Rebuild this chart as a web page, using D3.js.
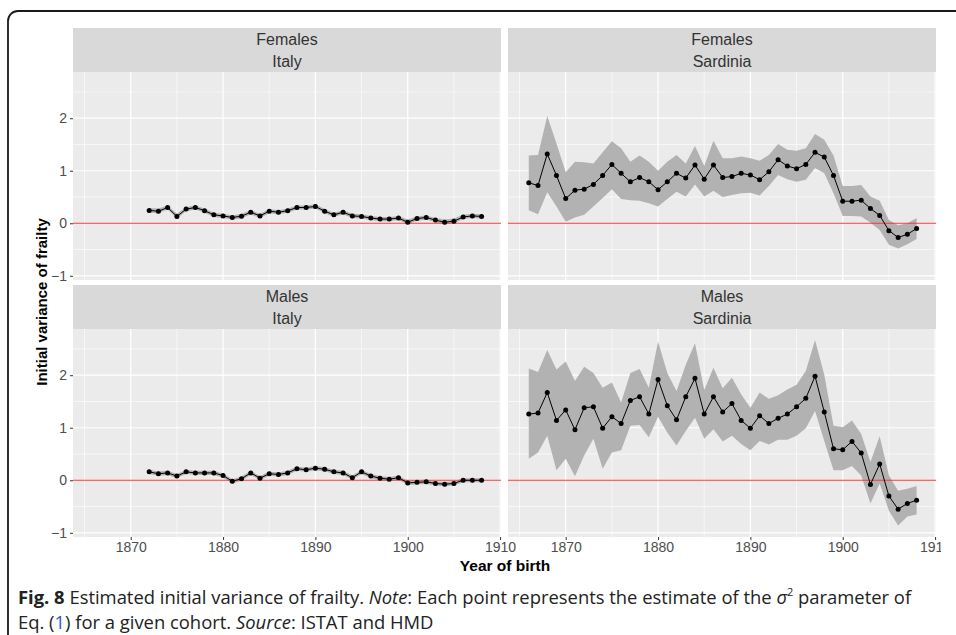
<!DOCTYPE html>
<html><head><meta charset="utf-8">
<script src="https://cdn.jsdelivr.net/npm/d3@7"></script>
<style>body{margin:0;background:#fff}svg{display:block}</style>
</head><body>
<script>
// ---- data ----
const italyStart = 1872, sardStart = 1866;
const itFemEst = [0.245,0.23,0.30,0.13,0.27,0.30,0.24,0.16,0.14,0.11,0.135,0.21,0.14,0.23,0.21,0.24,0.30,0.30,0.32,0.23,0.16,0.21,0.14,0.13,0.10,0.08,0.08,0.10,0.02,0.09,0.11,0.06,0.02,0.04,0.12,0.14,0.13];
const itFemUp  = [0.29,0.28,0.34,0.18,0.31,0.34,0.28,0.20,0.18,0.15,0.18,0.25,0.18,0.27,0.25,0.28,0.34,0.34,0.36,0.27,0.20,0.25,0.18,0.17,0.14,0.12,0.12,0.14,0.07,0.13,0.15,0.10,0.07,0.09,0.16,0.18,0.17];
const itFemLo  = [0.20,0.19,0.26,0.09,0.23,0.26,0.20,0.12,0.10,0.07,0.09,0.17,0.10,0.19,0.17,0.20,0.26,0.26,0.28,0.19,0.12,0.17,0.10,0.09,0.06,0.04,0.04,0.06,-0.02,0.05,0.07,0.02,-0.02,0.00,0.08,0.10,0.09];
const itMalEst = [0.16,0.125,0.14,0.08,0.16,0.14,0.14,0.14,0.09,-0.02,0.03,0.14,0.04,0.125,0.11,0.14,0.22,0.20,0.23,0.21,0.16,0.14,0.05,0.16,0.08,0.04,0.02,0.05,-0.05,-0.04,-0.03,-0.06,-0.075,-0.06,0.0,0.0,0.0];
const itMalUp  = [0.20,0.165,0.18,0.12,0.20,0.18,0.18,0.18,0.13,0.02,0.07,0.18,0.08,0.165,0.15,0.18,0.26,0.24,0.27,0.25,0.20,0.18,0.09,0.20,0.12,0.08,0.06,0.09,-0.01,0.0,0.01,-0.02,-0.035,-0.02,0.04,0.04,0.04];
const itMalLo  = [0.12,0.085,0.10,0.04,0.12,0.10,0.10,0.10,0.05,-0.06,-0.01,0.10,0.0,0.085,0.07,0.10,0.18,0.16,0.19,0.17,0.12,0.10,0.01,0.12,0.04,0.0,-0.02,0.01,-0.09,-0.08,-0.07,-0.10,-0.115,-0.10,-0.04,-0.04,-0.04];
const saFemEst = [0.77,0.72,1.32,0.91,0.47,0.63,0.65,0.74,0.91,1.12,0.95,0.79,0.87,0.79,0.64,0.79,0.95,0.86,1.11,0.84,1.11,0.87,0.89,0.95,0.92,0.83,0.98,1.21,1.09,1.04,1.12,1.35,1.26,0.91,0.42,0.42,0.44,0.28,0.15,-0.14,-0.27,-0.21,-0.10];
const saFemUp  = [1.29,1.30,2.04,1.52,0.97,1.17,1.16,1.14,1.35,1.56,1.43,1.17,1.29,1.17,1.00,1.17,1.30,1.14,1.47,1.09,1.57,1.24,1.24,1.27,1.24,1.19,1.30,1.51,1.40,1.38,1.43,1.70,1.59,1.29,0.71,0.71,0.73,0.51,0.43,0.06,-0.04,0.0,0.10];
const saFemLo  = [0.25,0.17,0.59,0.32,0.03,0.11,0.16,0.32,0.48,0.65,0.46,0.44,0.43,0.38,0.32,0.46,0.60,0.51,0.74,0.51,0.62,0.50,0.54,0.57,0.58,0.53,0.71,0.92,0.84,0.79,0.83,1.05,0.95,0.57,0.14,0.14,0.13,0.01,-0.13,-0.41,-0.48,-0.40,-0.30];
const saMalEst = [1.26,1.28,1.67,1.14,1.34,0.96,1.38,1.40,0.99,1.21,1.08,1.52,1.59,1.26,1.92,1.42,1.15,1.59,1.94,1.26,1.59,1.30,1.46,1.14,0.99,1.23,1.08,1.18,1.26,1.40,1.56,1.98,1.30,0.60,0.58,0.74,0.52,-0.08,0.31,-0.30,-0.55,-0.44,-0.38];
const saMalUp  = [2.13,2.06,2.48,2.11,2.26,1.89,2.16,2.04,1.76,1.86,1.48,2.04,2.12,1.76,2.64,2.04,1.70,2.20,2.61,1.72,2.14,1.75,1.95,1.64,1.38,1.67,1.55,1.62,1.73,1.82,2.08,2.67,2.01,1.04,1.01,1.14,0.88,0.35,0.84,0.09,-0.20,-0.16,-0.11];
const saMalLo  = [0.41,0.53,0.85,0.19,0.41,0.075,0.47,0.79,0.22,0.53,0.57,1.04,1.05,0.82,1.21,0.91,0.66,0.94,1.19,0.79,0.97,0.74,0.85,0.69,0.57,0.75,0.68,0.77,0.77,0.85,0.99,1.32,0.75,0.19,0.19,0.27,0.09,-0.44,-0.06,-0.58,-0.86,-0.69,-0.65];
const xTicks = [1870,1880,1890,1900,1910];
const xMinor = [1865,1875,1885,1895,1905];
const yTicks = [-1,0,1,2];
const yMinor = [-0.5,0.5,1.5,2.5];
const panels = [
  {sex:"Females", region:"Italy",    start:italyStart, est:itFemEst, lo:itFemLo, up:itFemUp, col:0, row:0},
  {sex:"Females", region:"Sardinia", start:sardStart,  est:saFemEst, lo:saFemLo, up:saFemUp, col:1, row:0},
  {sex:"Males",   region:"Italy",    start:italyStart, est:itMalEst, lo:itMalLo, up:itMalUp, col:0, row:1},
  {sex:"Males",   region:"Sardinia", start:sardStart,  est:saMalEst, lo:saMalLo, up:saMalUp, col:1, row:1}
];

// ---- layout ----
const W = 956, H = 635;
const colX = [73, 508], panelW = 428;
const stripTop = [28, 285], stripH = 44, plotH = 208;

const svg = d3.select("body").append("svg").attr("width", W).attr("height", H);
svg.append("defs").append("clipPath").attr("id","clipAll")
  .append("rect").attr("x",0).attr("y",0).attr("width",941).attr("height",H);

// frame
svg.append("rect").attr("x",8).attr("y",11).attr("width",1000).attr("height",700)
  .attr("rx",10).attr("fill","none").attr("stroke","#1a1a1a").attr("stroke-width",1.8);

const chart = svg.append("g").attr("clip-path","url(#clipAll)");
const font = "Liberation Sans, Arial, sans-serif";

panels.forEach(p => {
  const x0 = colX[p.col], sTop = stripTop[p.row], pTop = sTop + stripH;
  const x = d3.scaleLinear().domain([1863.75, 1910.1]).range([x0, x0 + panelW]);
  const y = d3.scaleLinear().domain([-1.08, 2.88]).range([pTop + plotH, pTop]);
  const g = chart.append("g");
  // strip
  g.append("rect").attr("x",x0).attr("y",sTop).attr("width",panelW).attr("height",stripH).attr("fill","#d9d9d9");
  g.append("text").attr("x",x0+panelW/2).attr("y",sTop+17).attr("text-anchor","middle")
    .attr("font-family",font).attr("font-size",16).attr("fill","#333").text(p.sex);
  g.append("text").attr("x",x0+panelW/2).attr("y",sTop+39).attr("text-anchor","middle")
    .attr("font-family",font).attr("font-size",16).attr("fill","#333").text(p.region);
  // panel
  g.append("rect").attr("x",x0).attr("y",pTop).attr("width",panelW).attr("height",plotH).attr("fill","#ebebeb");
  g.selectAll(".ymin").data(yMinor).join("line").attr("x1",x0).attr("x2",x0+panelW)
    .attr("y1",d=>y(d)).attr("y2",d=>y(d)).attr("stroke","#fff").attr("stroke-width",0.6);
  g.selectAll(".xmin").data(xMinor).join("line").attr("y1",pTop).attr("y2",pTop+plotH)
    .attr("x1",d=>x(d)).attr("x2",d=>x(d)).attr("stroke","#fff").attr("stroke-width",0.6);
  g.selectAll(".ymaj").data(yTicks).join("line").attr("x1",x0).attr("x2",x0+panelW)
    .attr("y1",d=>y(d)).attr("y2",d=>y(d)).attr("stroke","#fff").attr("stroke-width",1.2);
  g.selectAll(".xmaj").data(xTicks).join("line").attr("y1",pTop).attr("y2",pTop+plotH)
    .attr("x1",d=>x(d)).attr("x2",d=>x(d)).attr("stroke","#fff").attr("stroke-width",1.2);
  // data
  const rows = p.est.map((v,i)=>({yr:p.start+i, v, lo:p.lo[i], up:p.up[i]}));
  g.append("path").datum(rows).attr("fill","#b2b2b2")
    .attr("d", d3.area().x(d=>x(d.yr)).y0(d=>y(d.lo)).y1(d=>y(d.up)));
  g.append("line").attr("x1",x0).attr("x2",x0+panelW).attr("y1",y(0)).attr("y2",y(0))
    .attr("stroke","#f03a3a").attr("stroke-width",1.2);
  g.append("path").datum(rows).attr("fill","none").attr("stroke","#000").attr("stroke-width",1)
    .attr("d", d3.line().x(d=>x(d.yr)).y(d=>y(d.v)));
  g.selectAll(".pt").data(rows).join("circle").attr("cx",d=>x(d.yr)).attr("cy",d=>y(d.v))
    .attr("r",2.5).attr("fill","#000");
  // axes
  if (p.col === 0) {
    const ay = g.append("g").attr("transform",`translate(${x0},0)`)
      .call(d3.axisLeft(y).tickValues(yTicks).tickSize(3).tickPadding(3).tickFormat(d3.format("d")));
    ay.select(".domain").remove();
    ay.selectAll("line").attr("stroke","#333");
    ay.selectAll("text").attr("font-family",font).attr("font-size",14).attr("fill","#4d4d4d");
  }
  if (p.row === 1) {
    const ax = g.append("g").attr("transform",`translate(0,${pTop+plotH})`)
      .call(d3.axisBottom(x).tickValues(xTicks).tickSize(3).tickPadding(2).tickFormat(d3.format("d")));
    ax.select(".domain").remove();
    ax.selectAll("line").attr("stroke","#333");
    ax.selectAll("text").attr("font-family",font).attr("font-size",14).attr("fill","#4d4d4d");
  }
});

// axis titles
chart.append("text").attr("x",505).attr("y",571).attr("text-anchor","middle")
  .attr("font-family",font).attr("font-weight","bold").attr("font-size",15.5).attr("fill","#000")
  .text("Year of birth");
chart.append("text").attr("transform","translate(47,302) rotate(-90)").attr("text-anchor","middle")
  .attr("font-family",font).attr("font-weight","bold").attr("font-size",15).attr("fill","#000")
  .text("Initial variance of frailty");

// caption
const capFont = "'Open Sans', 'Noto Sans', sans-serif";
const cap1 = svg.append("text").attr("x",0).attr("y",0).attr("font-family",capFont).attr("font-size",18.5).attr("fill","#222");
cap1.append("tspan").attr("font-weight","bold").text("Fig. 8");
cap1.append("tspan").text(" Estimated initial variance of frailty. ");
cap1.append("tspan").attr("font-style","italic").text("Note");
cap1.append("tspan").text(": Each point represents the estimate of the ");
cap1.append("tspan").attr("font-style","italic").text("σ");
cap1.append("tspan").attr("font-size",11).attr("dy",-8).text("2");
cap1.append("tspan").attr("dy",8).text(" parameter of");
const cap2 = svg.append("text").attr("x",0).attr("y",0).attr("font-family",capFont).attr("font-size",18.5).attr("fill","#222");
cap2.append("tspan").text("Eq. (");
cap2.append("tspan").attr("fill","#2a5db0").text("1");
cap2.append("tspan").text(") for a given cohort. ");
cap2.append("tspan").attr("font-style","italic").text("Source");
cap2.append("tspan").text(": ISTAT and HMD");
const w1 = cap1.node().getComputedTextLength();
const sx = 894 / w1;
cap1.attr("transform",`translate(18,604) scale(${sx},1)`);
cap2.attr("transform",`translate(18,629) scale(${sx},1)`);
</script>
</body></html>
